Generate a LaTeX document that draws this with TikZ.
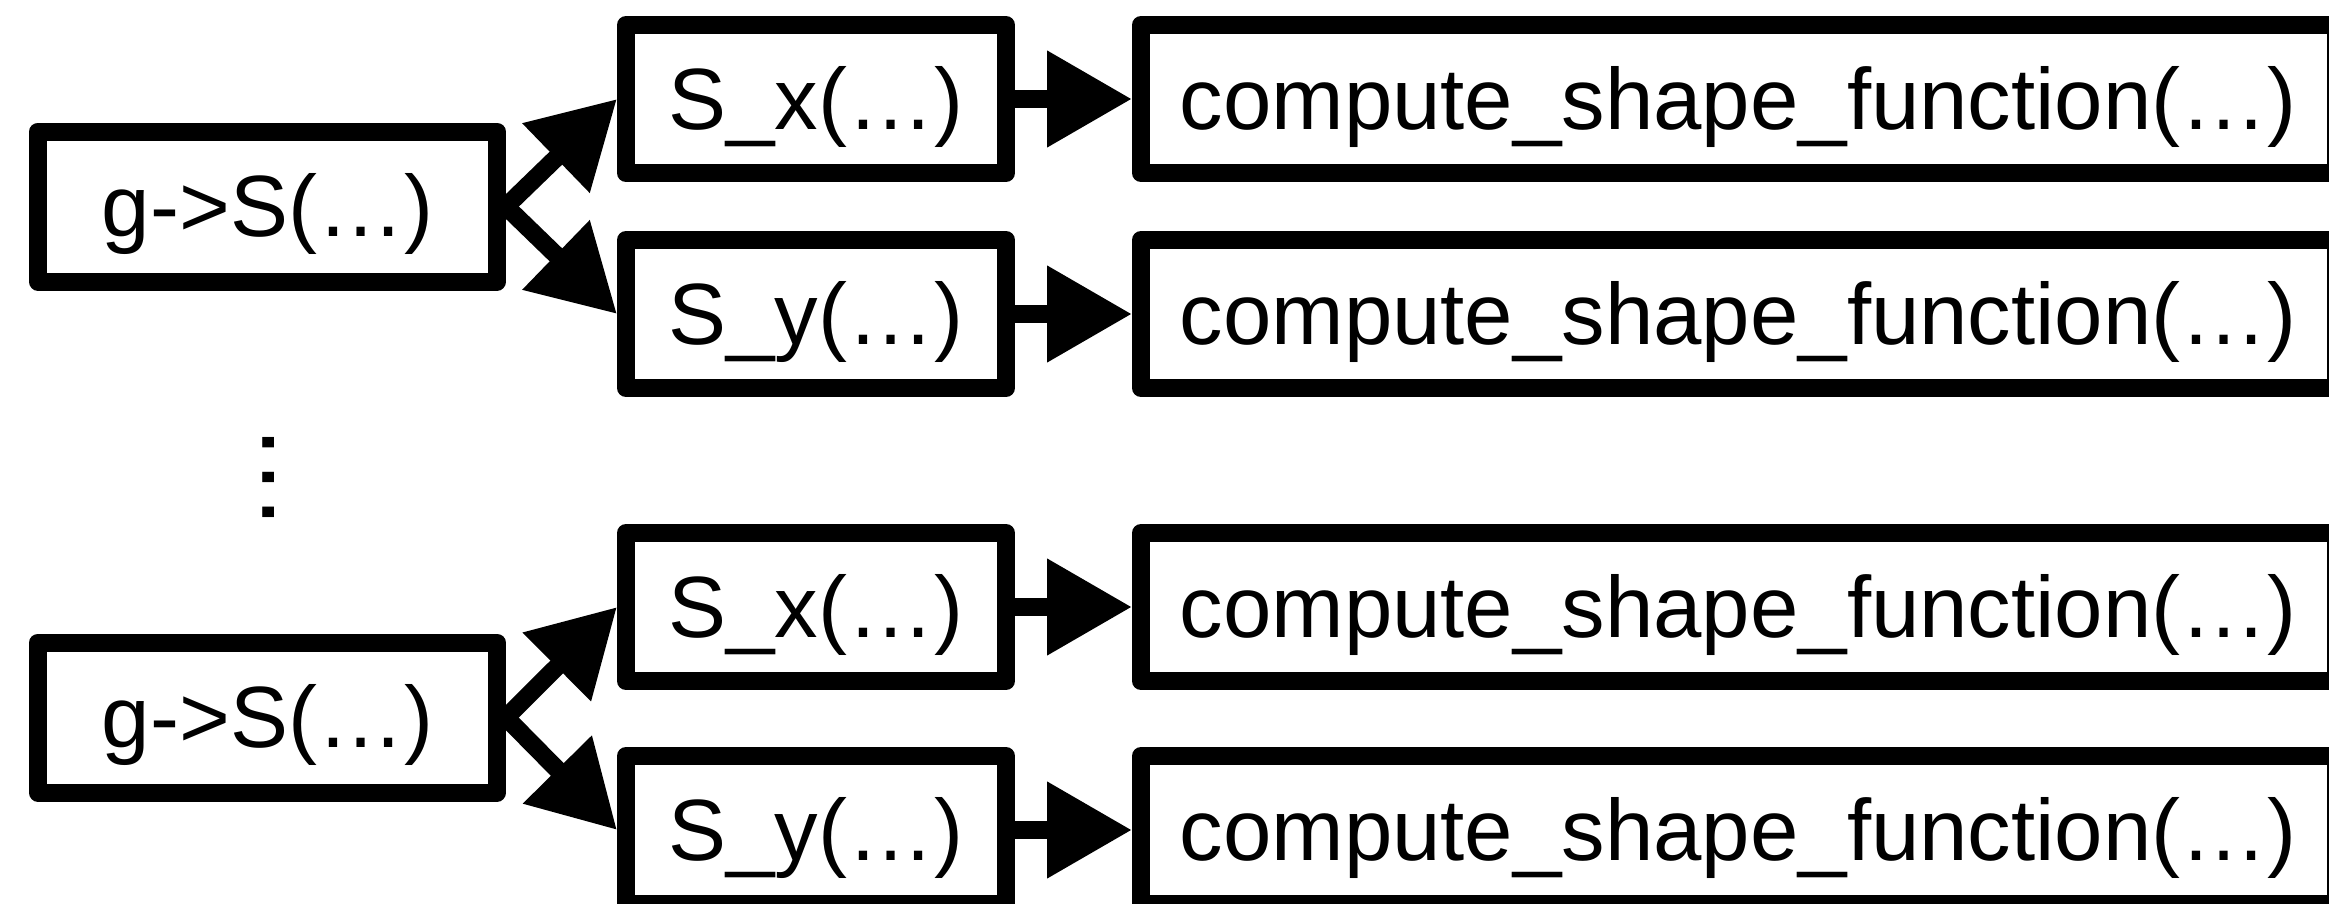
\documentclass[tikz,border=0pt]{standalone}
\usepackage{fontspec}
\setmainfont{Liberation Sans}
\usepackage{tikz}
\usetikzlibrary{arrows.meta, positioning}
\tikzstyle{call} = [rectangle, draw=black, line width=0.18cm, line join=round, text centered, inner sep=0pt, minimum width=3.8cm, minimum height=1.48cm, text height=0.8cm, text depth=0.2cm, font=\fontsize{24.75pt}{30pt}\selectfont]
\tikzstyle{arrow} = [line width=0.18cm, -{Triangle[length=0.85cm,width=0.92cm]}]

\begin{document}
\begin{tikzpicture}
    \useasboundingbox (-2.675,2.065) rectangle (20.615,-6.965);

    % first group
    \node (gs1) [call, minimum width=4.59cm, minimum height=1.5cm] {g->S(…)};
    \node (sx1) [call, right=1.11cm of gs1, yshift=1.075cm] {S\_x(…)};
    \node (sy1) [call, below=0.49cm of sx1] {S\_y(…)};
    \node (cx1) [call, minimum width=11.945cm, right=1.17cm of sx1] {compute\_shape\_function(…)};
    \node (cy1) [call, minimum width=11.945cm, right=1.17cm of sy1] {compute\_shape\_function(…)};

    \node (vdots) [rotate=90, anchor=base, font=\fontsize{31.3pt}{36pt}\selectfont] at (0.075,-2.705) {…};

    % second group
    \node (gs2) [call, minimum width=4.59cm, minimum height=1.5cm, below=3.43cm of gs1] {g->S(…)};
    \node (sx2) [call, right=1.11cm of gs2, yshift=1.105cm] {S\_x(…)};
    \node (sy2) [call, below=0.57cm of sx2] {S\_y(…)};
    \node (cx2) [call, minimum width=11.945cm, right=1.17cm of sx2] {compute\_shape\_function(…)};
    \node (cy2) [call, minimum width=11.945cm, right=1.17cm of sy2] {compute\_shape\_function(…)};

    \draw [arrow] (gs1.east) -- (sx1.west);
    \draw [arrow] (gs1.east) -- (sy1.west);
    \draw [arrow] (sx1) -- (cx1);
    \draw [arrow] (sy1) -- (cy1);

    \draw [arrow] (gs2.east) -- (sx2.west);
    \draw [arrow] (gs2.east) -- (sy2.west);
    \draw [arrow] (sx2) -- (cx2);
    \draw [arrow] (sy2) -- (cy2);
\end{tikzpicture}
\end{document}
